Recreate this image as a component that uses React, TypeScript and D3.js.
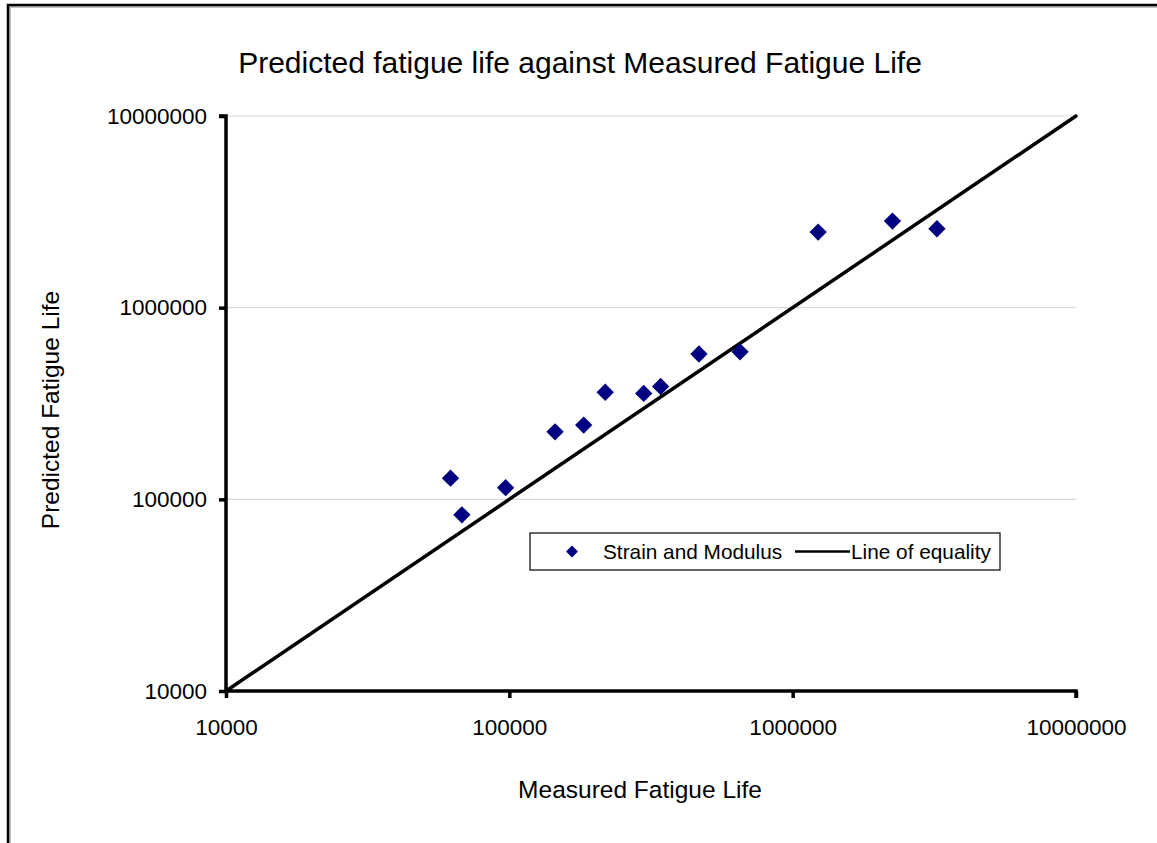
import { useEffect, useRef } from 'react';
import * as d3 from 'd3';

// Measured vs predicted fatigue life
const measured = [62000, 68000, 97000, 145000, 183000, 218000, 298000, 342000, 467000, 652000, 1230000, 2250000, 3230000];
const predicted = [129000, 83000, 115000, 225000, 244000, 362000, 357000, 388000, 573000, 588000, 2480000, 2830000, 2580000];
const equality = [10000, 10000000];
const tickValues = [10000, 100000, 1000000, 10000000];

export default function App() {
  const svgRef = useRef<SVGSVGElement>(null);

  useEffect(() => {
    const width = 1157;
    const height = 843;
    const left = 226, right = 1076, top = 116, bottom = 691;

    const svg = d3.select(svgRef.current)
      .attr('width', width)
      .attr('height', height);
    svg.selectAll('*').remove();

    const font = 'Liberation Sans, Arial, sans-serif';

    // outer frame (right and bottom are cut off)
    svg.append('rect')
      .attr('x', 10).attr('y', 7).attr('width', width).attr('height', height)
      .attr('fill', 'none').attr('stroke', '#aaa').attr('stroke-width', 1.5);
    svg.append('rect')
      .attr('x', 8).attr('y', 5).attr('width', width).attr('height', height)
      .attr('fill', 'none').attr('stroke', '#000').attr('stroke-width', 2.5);

    const x = d3.scaleLog().domain([10000, 10000000]).range([left, right]);
    const y = d3.scaleLog().domain([10000, 10000000]).range([bottom, top]);

    // gridlines
    svg.append('g')
      .selectAll('line')
      .data(tickValues.slice(1))
      .join('line')
      .attr('x1', left).attr('x2', right)
      .attr('y1', d => y(d)).attr('y2', d => y(d))
      .attr('stroke', '#d9d9d9').attr('stroke-width', 1.2);

    // axes
    const yAxis = svg.append('g')
      .attr('transform', `translate(${left},0)`)
      .call(d3.axisLeft(y).tickValues(tickValues).tickFormat(d3.format('d')).tickSize(7).tickPadding(12));
    const xAxis = svg.append('g')
      .attr('transform', `translate(0,${bottom})`)
      .call(d3.axisBottom(x).tickValues(tickValues).tickFormat(d3.format('d')).tickSize(7).tickPadding(21));

    [yAxis, xAxis].forEach(g => {
      g.select('.domain').attr('stroke', '#000').attr('stroke-width', 3.5);
      g.selectAll('.tick line').attr('stroke', '#000').attr('stroke-width', 3.5);
      g.selectAll('.tick text')
        .attr('font-family', font).attr('font-size', 22.5).attr('fill', '#000');
    });
    yAxis.select('.domain').attr('d', `M${-7},${top}H0V${bottom}`);
    xAxis.select('.domain').attr('d', `M${left},0H${right}V7`);

    // line of equality
    const line = d3.line<number>()
      .x(d => x(d))
      .y(d => y(d));
    svg.append('path')
      .datum(equality)
      .attr('fill', 'none')
      .attr('stroke', '#000')
      .attr('stroke-width', 3.5)
      .attr('stroke-linecap', 'round')
      .attr('d', line);

    // points (rotated squares = diamonds)
    svg.append('g')
      .selectAll('path')
      .data(measured.map((m, i) => [m, predicted[i]]))
      .join('path')
      .attr('transform', d => `translate(${x(d[0])},${y(d[1])}) rotate(45)`)
      .attr('d', d3.symbol().type(d3.symbolSquare).size(150))
      .attr('fill', '#000080');

    // title
    svg.append('text')
      .attr('x', 580).attr('y', 73)
      .attr('text-anchor', 'middle')
      .attr('font-family', font).attr('font-size', 30)
      .text('Predicted fatigue life against Measured Fatigue Life');

    svg.append('text')
      .attr('x', 640).attr('y', 798)
      .attr('text-anchor', 'middle')
      .attr('font-family', font).attr('font-size', 24.5)
      .text('Measured Fatigue Life');

    svg.append('text')
      .attr('transform', 'translate(59,410) rotate(-90)')
      .attr('text-anchor', 'middle')
      .attr('font-family', font).attr('font-size', 24.5)
      .text('Predicted Fatigue Life');

    // legend
    const lg = svg.append('g').attr('transform', 'translate(530,533)');
    lg.append('rect')
      .attr('width', 470).attr('height', 37)
      .attr('fill', '#fff').attr('stroke', '#000').attr('stroke-width', 1.2);
    lg.append('path')
      .attr('transform', 'translate(42,18.5) rotate(45)')
      .attr('d', d3.symbol().type(d3.symbolSquare).size(70))
      .attr('fill', '#000080');
    lg.append('text')
      .attr('x', 73).attr('y', 26)
      .attr('font-family', font).attr('font-size', 20.8)
      .text('Strain and Modulus');
    lg.append('line')
      .attr('x1', 265).attr('x2', 320).attr('y1', 18.5).attr('y2', 18.5)
      .attr('stroke', '#000').attr('stroke-width', 2.5);
    lg.append('text')
      .attr('x', 321).attr('y', 26)
      .attr('font-family', font).attr('font-size', 20.8)
      .text('Line of equality');
  }, []);

  return (
    <svg ref={svgRef} style={{ position: 'absolute', left: 0, top: 0, background: '#fff' }}></svg>
  );
}
